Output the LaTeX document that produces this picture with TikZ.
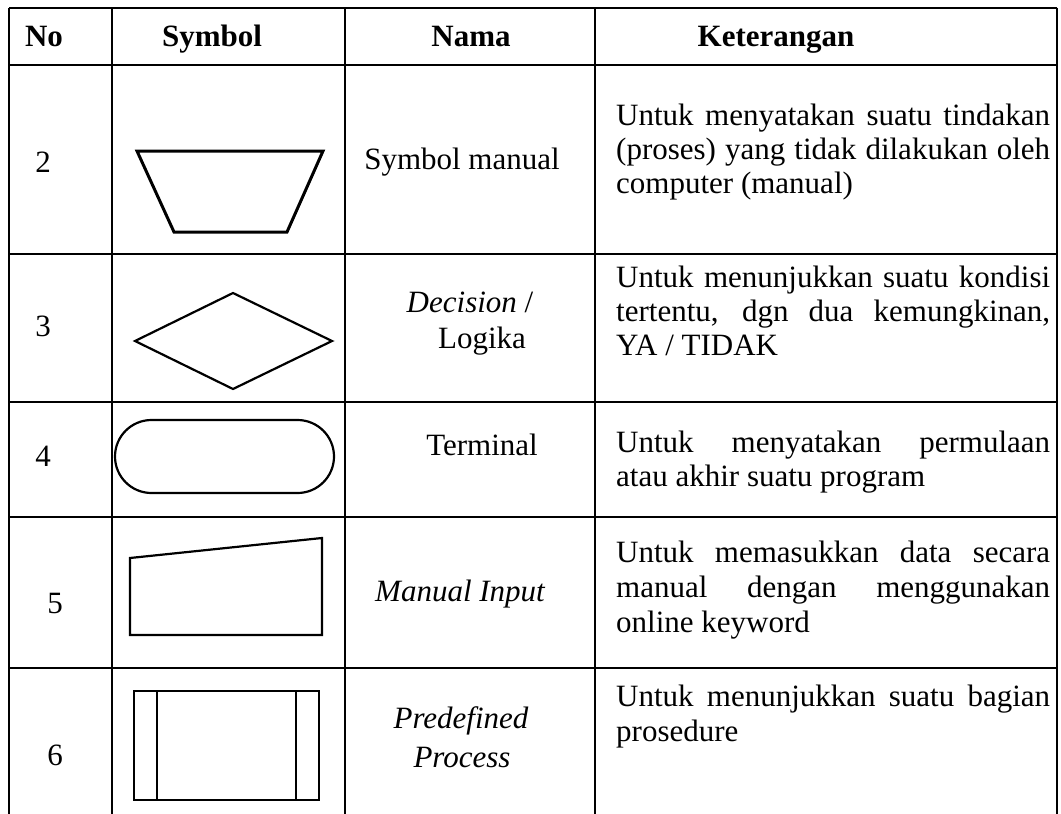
\documentclass[tikz,border=0pt]{standalone}
\usepackage{fontspec}
\setmainfont{Liberation Serif}
\begin{document}
\begin{tikzpicture}[x=1pt,y=-1pt,
  rule/.style={line width=2pt},
  symb/.style={line width=2.2pt, line join=miter},
  thick symb/.style={line width=3pt, line join=miter},
  txt/.style={inner sep=0pt, font=\fontsize{31}{35}\selectfont},
  head/.style={txt, anchor=base, font=\fontsize{31}{35}\selectfont\bfseries},
  mid/.style={txt, anchor=base},
  desc/.style={txt, anchor=base west}]
\useasboundingbox (0,0) rectangle (1061,814);

% table rules
\draw[rule] (9,7.5) -- (1057,7.5);
\foreach \yy in {65,254,402,517,668}
  \draw[rule] (9,\yy) -- (1057,\yy);
\foreach \xx in {9,112,345,595,1057}
  \draw[rule] (\xx,7.5) -- (\xx,814);

% header
\node[head] (hNo)  at (44,46)  {No};
\node[head] (hSym) at (212,46) {Symbol};
\node[head] (hNam) at (471,46) {Nama};
\node[head] (hKet) at (776,46) {Keterangan};

% row numbers
\node[mid] (n2) at (43,172) {2};
\node[mid] (n3) at (43,336) {3};
\node[mid] (n4) at (43,466) {4};
\node[mid] (n5) at (55,613) {5};
\node[mid] (n6) at (55,765) {6};

% symbols
\draw[thick symb] (137,151) -- (323,151) -- (287,232) -- (174,232) -- cycle;
\draw[symb] (135,341) -- (233,293) -- (332,341) -- (233,389) -- cycle;
\draw[symb, rounded corners=36.5pt] (115,420) rectangle (334,493);
\draw[symb] (130,558) -- (322,538) -- (322,635) -- (130,635) -- cycle;
\draw[symb] (134,691) rectangle (319,800);
\draw[symb] (157,691) -- (157,800);
\draw[symb] (296,691) -- (296,800);

% names
\node[mid] (m2)  at (462,169) {Symbol manual};
\node[mid] (m3a) at (470,312) {\itshape Decision\upshape{} /};
\node[mid] (m3b) at (482,348) {Logika};
\node[mid] (m4)  at (482,455) {Terminal};
\node[mid] (m5)  at (460,601) {\itshape Manual Input};
\node[mid] (m6a) at (461,728) {\itshape Predefined};
\node[mid] (m6b) at (462,767) {\itshape Process};

% descriptions
\node[desc] (k2a) at (616,125) {\makebox[434pt][s]{Untuk menyatakan suatu tindakan}};
\node[desc] (k2b) at (616,159) {\makebox[434pt][s]{(proses) yang tidak dilakukan oleh}};
\node[desc] (k2c) at (616,193) {computer (manual)};
\node[desc] (k3a) at (616,287) {\makebox[434pt][s]{Untuk menunjukkan suatu kondisi}};
\node[desc] (k3b) at (616,321) {\makebox[434pt][s]{tertentu, dgn dua kemungkinan,}};
\node[desc] (k3c) at (616,355) {YA / TIDAK};
\node[desc] (k4a) at (616,452) {\makebox[434pt][s]{Untuk menyatakan permulaan}};
\node[desc] (k4b) at (616,486) {atau akhir suatu program};
\node[desc] (k5a) at (616,562) {\makebox[434pt][s]{Untuk memasukkan data secara}};
\node[desc] (k5b) at (616,597) {\makebox[434pt][s]{manual dengan menggunakan}};
\node[desc] (k5c) at (616,632) {online keyword};
\node[desc] (k6a) at (616,706) {\makebox[434pt][s]{Untuk menunjukkan suatu bagian}};
\node[desc] (k6b) at (616,741) {prosedure};
\end{tikzpicture}
\end{document}
